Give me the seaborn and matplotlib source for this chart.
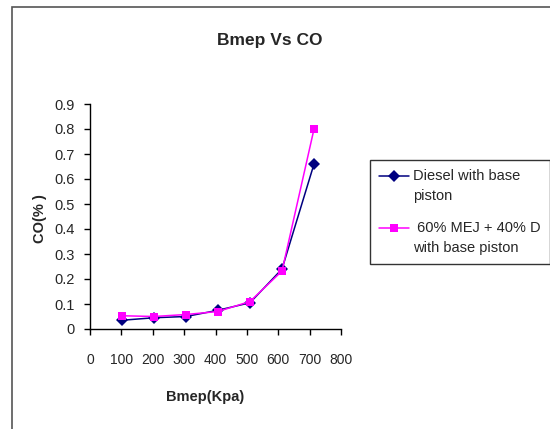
import matplotlib
matplotlib.use("Agg")
import numpy as np
import matplotlib.pyplot as plt
import seaborn as sns
import pandas as pd
from matplotlib.patches import Rectangle
from matplotlib.legend_handler import HandlerLine2D

# Brake mean effective pressure (kPa) and CO emission (%)
bmep = [102, 204, 306, 408, 510, 612, 714]
co_diesel = [0.035, 0.045, 0.05, 0.075, 0.105, 0.24, 0.66]
co_blend = [0.053, 0.05, 0.058, 0.07, 0.11, 0.232, 0.80]

series_names = ["Diesel with base\npiston", " 60% MEJ + 40% D\nwith base piston"]
x_ticks = [0, 100, 200, 300, 400, 500, 600, 700, 800]
y_ticks = [0, 0.1, 0.2, 0.3, 0.4, 0.5, 0.6, 0.7, 0.8, 0.9]

df = pd.DataFrame({
    "Bmep": bmep * 2,
    "CO": co_diesel + co_blend,
    "Fuel": [series_names[0]] * len(bmep) + [series_names[1]] * len(bmep),
})

sns.set_style("white")
plt.rcParams["font.family"] = ["Liberation Sans", "DejaVu Sans"]

LEGEND_SIZE = 10.5
LEGEND_LINESPACING = 1.5


class FirstLineHandler(HandlerLine2D):
    """Legend handle aligned with the first line of a two-line label."""

    def create_artists(self, legend, orig_handle, xdescent, ydescent,
                       width, height, fontsize, trans):
        artists = super().create_artists(legend, orig_handle, xdescent, ydescent,
                                         width, height, fontsize, trans)
        for a in artists:
            a.set_ydata(np.asarray(a.get_ydata()) + 0.72 * fontsize)
        return artists


fig = plt.figure(figsize=(5.5, 4.29), dpi=100)
ax = fig.add_axes([90 / 550, 1 - 329 / 429, 251 / 550, 225 / 429])

# outer chart frame
fig.patches.append(Rectangle((12 / 550, -0.1), 1.2, 1 - 7 / 429 + 0.1,
                             transform=fig.transFigure, fill=False,
                             edgecolor="#555555", linewidth=1.2))

sns.lineplot(data=df, x="Bmep", y="CO", hue="Fuel", style="Fuel",
             palette=["#000080", "#FF00FF"], markers=["D", "s"], dashes=False,
             markersize=6, linewidth=1.1, markeredgewidth=0, ax=ax)

ax.set_xlim(0, 800)
ax.set_ylim(0, 0.9)
ax.set_xticks(x_ticks)
ax.set_yticks(y_ticks)
ax.set_xticklabels([str(t) for t in x_ticks], fontsize=10)
ax.set_yticklabels(["0" if t == 0 else f"{t:.1f}" for t in y_ticks], fontsize=10.5)
ax.tick_params(axis="both", direction="out", length=4, width=1, color="black",
               bottom=True, left=True)
ax.tick_params(axis="y", pad=7)
ax.tick_params(axis="x", pad=13)
for side in ["top", "right"]:
    ax.spines[side].set_visible(False)
for side in ["left", "bottom"]:
    ax.spines[side].set_color("black")
    ax.spines[side].set_linewidth(1)

ax.set_xlabel("Bmep(Kpa)", fontsize=10.5, fontweight="bold")
ax.set_ylabel("CO(% )", fontsize=10.5, fontweight="bold")
ax.xaxis.set_label_coords((205 - 90) / 251, (329 - 390) / 225)
ax.yaxis.set_label_coords((47 - 90) / 251, 0.49)
fig.text(270 / 550, 1 - 40 / 429, "Bmep Vs CO", ha="center", va="center",
         fontsize=12.5, fontweight="bold")

handles, labels = ax.get_legend_handles_labels()
leg = ax.legend(handles, labels, loc="upper left",
                bbox_to_anchor=(370 / 550, 1 - 160 / 429),
                bbox_transform=fig.transFigure, frameon=True, fancybox=False,
                fontsize=LEGEND_SIZE, handlelength=2.0,
                handletextpad=0.3, borderpad=0.65, labelspacing=1.25,
                borderaxespad=0,
                handler_map={h: FirstLineHandler() for h in handles})
for t in leg.get_texts():
    t.set_linespacing(LEGEND_LINESPACING)
leg.get_frame().set_edgecolor("black")
leg.get_frame().set_linewidth(1)

fig.savefig("out.png", dpi=100)
